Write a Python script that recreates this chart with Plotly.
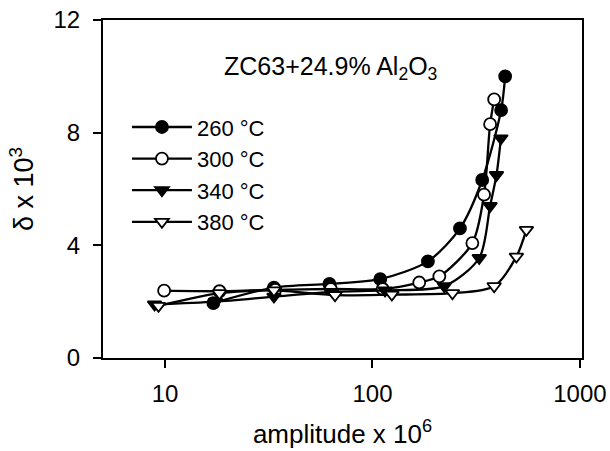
import plotly.graph_objects as go

# amplitude x 10^6 and damping (delta x 10^3) per test temperature
amp_260 = [17.1, 33.5, 62, 109, 185, 264, 338, 417, 436]
delta_260 = [1.95, 2.5, 2.63, 2.8, 3.43, 4.6, 6.32, 8.8, 10.0]

amp_300 = [9.9, 18.3, 34, 63, 112, 168, 210, 303, 345, 369, 386]
delta_300 = [2.39, 2.37, 2.42, 2.45, 2.45, 2.68, 2.9, 4.08, 5.8, 8.3, 9.18]

amp_340 = [8.9, 17.5, 33.5, 64, 115, 222, 327, 369, 396, 416]
delta_340 = [1.9, 2.0, 2.18, 2.35, 2.4, 2.55, 3.55, 5.4, 6.5, 7.8]

amp_380 = [9.3, 18.3, 33.5, 66, 124, 243, 386, 494, 552]
delta_380 = [1.85, 2.3, 2.4, 2.23, 2.25, 2.3, 2.55, 3.6, 4.55]

series_names = ["260 °C", "300 °C", "340 °C", "380 °C"]
x_ticks = [10, 100, 1000]
y_ticks = [0, 4, 8, 12]

FONT = "Liberation Sans, Arial, sans-serif"

styles = [
    dict(symbol="circle", color="black"),
    dict(symbol="circle", color="white"),
    dict(symbol="triangle-down", color="black"),
    dict(symbol="triangle-down", color="white"),
]
data = [(amp_260, delta_260), (amp_300, delta_300), (amp_340, delta_340), (amp_380, delta_380)]

fig = go.Figure()
for name, (xs, ys), st in zip(series_names, data, styles):
    fig.add_trace(go.Scatter(
        x=xs, y=ys, name=name, mode="lines+markers",
        line=dict(color="black", width=2.3, shape="spline", smoothing=0.8),
        marker=dict(symbol=st["symbol"], size=12, color=st["color"],
                    line=dict(color="black", width=1.8)),
    ))

x_range = [0.701, 3.01]
y_range = [0, 12]

fig.update_layout(
    width=610, height=451,
    margin=dict(l=103, r=28, t=20, b=93, autoexpand=False),
    paper_bgcolor="white", plot_bgcolor="white",
    font=dict(family=FONT, size=24, color="black"),
    showlegend=True,
    legend=dict(x=0.05, y=0.745, xanchor="left", yanchor="top",
                bgcolor="rgba(0,0,0,0)", font=dict(size=22),
                tracegroupgap=0, itemwidth=60),
    xaxis=dict(type="log", range=x_range, tickvals=x_ticks,
               ticktext=[str(v) for v in x_ticks], automargin=False,
               ticks="outside", ticklen=8, tickwidth=2, tickcolor="black",
               ticklabelstandoff=5,
               showline=True, linewidth=2, linecolor="black", mirror=True,
               showgrid=False, zeroline=False,
               title=dict(text="amplitude x 10<sup>6</sup>", standoff=19,
                          font=dict(size=26))),
    yaxis=dict(range=y_range, tickvals=y_ticks, automargin=False,
               ticks="outside", ticklen=8, tickwidth=2, tickcolor="black",
               ticklabelstandoff=8,
               showline=True, linewidth=2, linecolor="black", mirror=True,
               showgrid=False, zeroline=False,
               title=dict(text="δ x 10<sup>3</sup>", standoff=12,
                          font=dict(size=27))),
    xaxis2=dict(type="log", range=x_range, tickvals=x_ticks, overlaying="x",
                side="top", anchor="y", ticks="inside", ticklen=9, tickwidth=2,
                tickcolor="black", showticklabels=False, showgrid=False,
                showline=False, zeroline=False, automargin=False),
    yaxis2=dict(range=y_range, tickvals=y_ticks, overlaying="y", side="right",
                anchor="x", ticks="inside", ticklen=10, tickwidth=2,
                tickcolor="black", showticklabels=False, showgrid=False,
                showline=False, zeroline=False, automargin=False),
)

fig.add_annotation(
    text="ZC63+24.9% Al<sub>2</sub>O<sub>3</sub>",
    xref="paper", yref="paper", x=0.474, y=0.858, xanchor="center", yanchor="middle",
    showarrow=False, font=dict(size=25, family=FONT),
)

fig.write_html("out.html")
